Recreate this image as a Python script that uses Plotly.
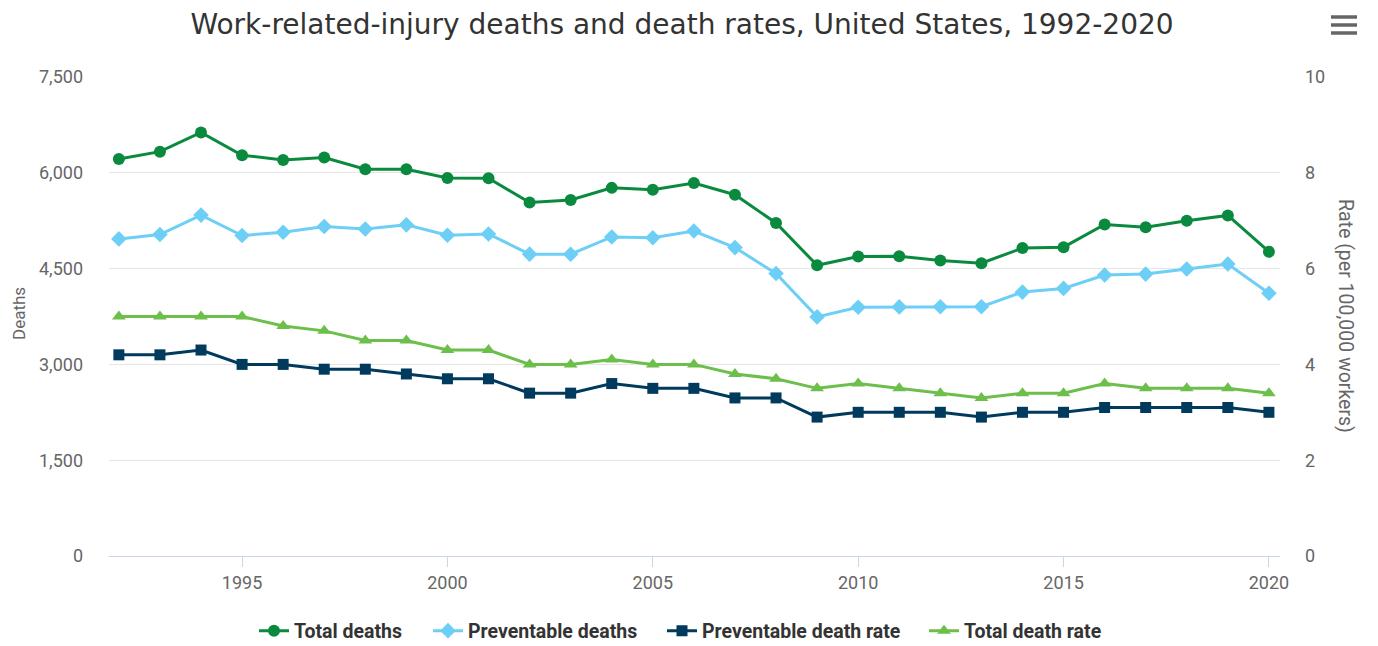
import plotly.graph_objects as go

years = list(range(1992, 2021))
total_deaths = [6217, 6331, 6632, 6275, 6202, 6238, 6055, 6054, 5920, 5915,
                5534, 5575, 5764, 5734, 5840, 5657, 5214, 4551, 4690, 4693,
                4628, 4585, 4821, 4836, 5190, 5147, 5250, 5333, 4764]
preventable_deaths = [4965, 5034, 5338, 5018, 5069, 5160, 5120, 5185, 5022, 5042,
                      4726, 4725, 4995, 4984, 5088, 4829, 4423, 3744, 3896, 3900,
                      3903, 3903, 4132, 4190, 4400, 4414, 4493, 4572, 4113]
preventable_rate = [4.2, 4.2, 4.3, 4.0, 4.0, 3.9, 3.9, 3.8, 3.7, 3.7,
                    3.4, 3.4, 3.6, 3.5, 3.5, 3.3, 3.3, 2.9, 3.0, 3.0,
                    3.0, 2.9, 3.0, 3.0, 3.1, 3.1, 3.1, 3.1, 3.0]
total_rate = [5.0, 5.0, 5.0, 5.0, 4.8, 4.7, 4.5, 4.5, 4.3, 4.3,
              4.0, 4.0, 4.1, 4.0, 4.0, 3.8, 3.7, 3.5, 3.6, 3.5,
              3.4, 3.3, 3.4, 3.4, 3.6, 3.5, 3.5, 3.5, 3.4]
left_ticks = [0, 1500, 3000, 4500, 6000, 7500]
right_ticks = [0, 2, 4, 6, 8, 10]
x_ticks = [1995, 2000, 2005, 2010, 2015, 2020]

C_TOTAL = "#0a8a3e"
C_PREV = "#6dcff6"
C_PREV_RATE = "#003a5d"
C_TOTAL_RATE = "#6cbf4a"

W, H = 1378, 646
L, R, T, B = 109, 98, 77, 90
pw = W - L - R
ph = H - T - B

series = [
    ("Total deaths", total_deaths, "y", C_TOTAL, "circle", 12),
    ("Preventable deaths", preventable_deaths, "y", C_PREV, "diamond", 12),
    ("Preventable death rate", preventable_rate, "y2", C_PREV_RATE, "square", 11),
    ("Total death rate", total_rate, "y2", C_TOTAL_RATE, "triangle-up", 12),
]
legend_text_x = [296, 470, 704, 966]
legend_names = ["legend", "legend2", "legend3", "legend4"]

fig = go.Figure()
for (name, vals, ax, col, sym, sz), lg in zip(series, legend_names):
    fig.add_trace(go.Scatter(x=years, y=vals, name=name, mode="lines+markers", yaxis=ax,
                             legend=lg, line=dict(color=col, width=3),
                             marker=dict(symbol=sym, size=sz, color=col)))

tickfont = dict(family="Roboto, sans-serif", size=18, color="#666666")
legend_font = dict(family="Roboto, sans-serif", size=19.5, color="#333333", weight="bold")

layout_legends = {}
for lg, tx in zip(legend_names, legend_text_x):
    layout_legends[lg] = dict(orientation="h", x=(tx - 42 - L) / pw, xanchor="left",
                              y=-(631 - (H - B)) / ph, yanchor="middle",
                              font=legend_font, bgcolor="rgba(0,0,0,0)", itemwidth=30)

fig.update_layout(
    width=W, height=H,
    margin=dict(l=L, r=R, t=T, b=B, autoexpand=False),
    paper_bgcolor="white", plot_bgcolor="white",
    title=dict(text="Work-related-injury deaths and death rates, United States, 1992-2020",
               x=(682 - L) / pw, xref="paper", xanchor="center", y=1 - 24 / H, yanchor="middle",
               font=dict(family="DejaVu Sans, sans-serif", size=28, color="#333333")),
    xaxis=dict(range=[1991.76, 2020.27], tickvals=x_ticks, ticks="outside", ticklen=10,
               tickcolor="#ccd6eb", showline=True, linecolor="#ccd6eb", linewidth=1,
               showgrid=False, zeroline=False, tickfont=tickfont),
    yaxis=dict(range=[0, 7500], tickvals=left_ticks, tickformat=",", showgrid=True,
               gridcolor="#e6e6e6", gridwidth=1, zeroline=False, showline=False,
               tickfont=tickfont, ticklabelstandoff=25),
    yaxis2=dict(range=[0, 10], tickvals=right_ticks, overlaying="y", side="right",
                showgrid=False, zeroline=False, showline=False, tickfont=tickfont,
                ticklabelstandoff=24),
    showlegend=True,
    **layout_legends,
)

# axis titles
fig.add_annotation(text="Deaths", x=(19 - L) / pw, y=(H - B - 314) / ph, xref="paper", yref="paper",
                   xanchor="center", yanchor="middle",
                   showarrow=False, textangle=-90,
                   font=dict(family="Roboto, sans-serif", size=17, color="#666666"))
fig.add_annotation(text="Rate (per 100,000 workers)", x=(1346 - L) / pw, y=(H - B - 316) / ph,
                   xref="paper", yref="paper", xanchor="center", yanchor="middle",
                   showarrow=False, textangle=90,
                   font=dict(family="Roboto, sans-serif", size=19.5, color="#666666"))
# hamburger menu icon
for yy in (17, 25, 33):
    fig.add_shape(type="line", xref="paper", yref="paper",
                  x0=(1331 - L) / pw, x1=(1357 - L) / pw,
                  y0=(H - B - yy) / ph, y1=(H - B - yy) / ph,
                  line=dict(color="#666666", width=3.5))

fig.write_html("out.html", config={"displayModeBar": False},
               post_script="document.body.style.margin='0';")
